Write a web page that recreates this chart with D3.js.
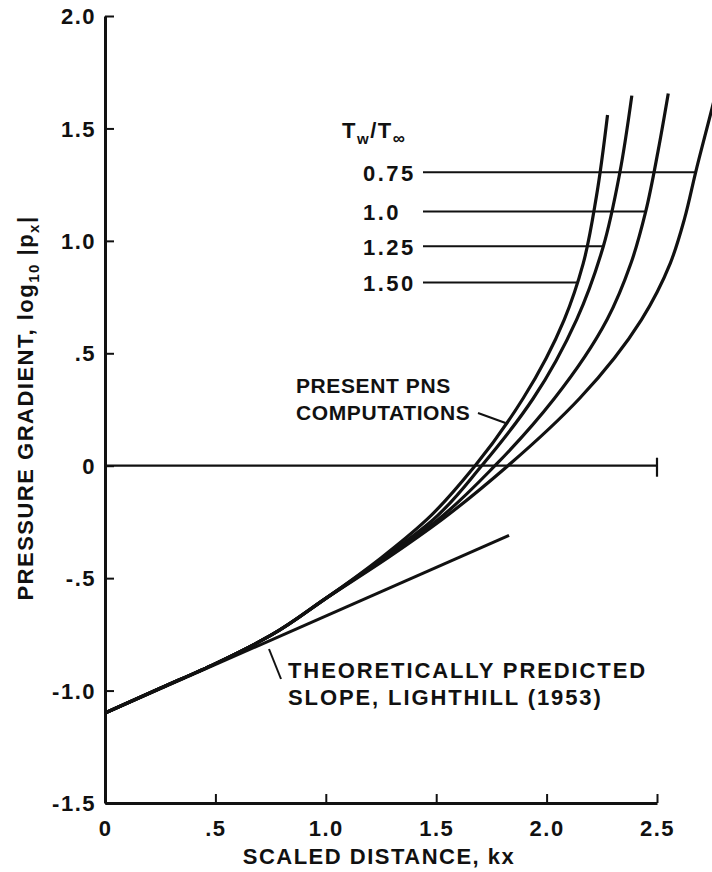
<!DOCTYPE html>
<html>
<head>
<meta charset="utf-8">
<script src="https://cdn.jsdelivr.net/npm/d3@7"></script>
<style>
  html, body { margin: 0; padding: 0; background: #fff; }
  svg text { font-family: "Liberation Sans", Arial, Helvetica, sans-serif; font-weight: bold; fill: #111; letter-spacing: 1.5px; }
  .axis path, .axis line { stroke: #111; }
</style>
</head>
<body>
<svg id="chart"></svg>
<script>
// ticks
var xTicks = [0, 0.5, 1.0, 1.5, 2.0, 2.5];
var xTickLabels = ["0", ".5", "1.0", "1.5", "2.0", "2.5"];
var yTicks = [2.0, 1.5, 1.0, 0.5, 0, -0.5, -1.0, -1.5];
var yTickLabels = ["2.0", "1.5", "1.0", ".5", "0", "-.5", "-1.0", "-1.5"];

// PNS curves, one per wall temperature ratio Tw/Tinf (kx, log10|px|)
var ratios = ["0.75", "1.0", "1.25", "1.50"];
var kx075 = [0, 0.25, 0.5, 0.75, 1.0, 1.28, 1.525, 1.825, 2.15, 2.43, 2.56, 2.625, 2.675, 2.752, 2.79];
var p075  = [-1.10, -0.99, -0.88, -0.755, -0.59, -0.41, -0.24, 0.00, 0.30, 0.65, 0.90, 1.10, 1.305, 1.60, 1.75];
var kx100 = [0, 0.25, 0.5, 0.75, 1.0, 1.27, 1.508, 1.766, 2.036, 2.274, 2.382, 2.449, 2.505, 2.551];
var p100  = [-1.10, -0.99, -0.88, -0.755, -0.59, -0.41, -0.24, 0.00, 0.30, 0.65, 0.90, 1.131, 1.40, 1.655];
var kx125 = [0, 0.25, 0.5, 0.75, 1.0, 1.26, 1.486, 1.706, 1.94, 2.136, 2.257, 2.331, 2.386];
var p125  = [-1.10, -0.99, -0.88, -0.755, -0.59, -0.41, -0.24, 0.00, 0.30, 0.65, 0.976, 1.30, 1.646];
var kx150 = [0, 0.25, 0.5, 0.75, 1.0, 1.25, 1.457, 1.676, 1.894, 2.08, 2.166, 2.226, 2.276];
var p150  = [-1.10, -0.99, -0.88, -0.755, -0.59, -0.41, -0.24, 0.00, 0.30, 0.65, 0.90, 1.20, 1.56];

// Lighthill (1953) theoretical slope
var lightKx = [0, 1.83];
var lightP = [-1.10, -0.31];

// levels of the legend leader lines (log10 |px|)
var legendLevels = [1.305, 1.131, 0.976, 0.815];

var width = 712, height = 872;

var x = d3.scaleLinear().domain([0, 2.5]).range([105, 657]);
var y = d3.scaleLinear().domain([-1.5, 2.0]).range([803, 16]);

var svg = d3.select("#chart")
            .attr("width", width)
            .attr("height", height);

svg.append("rect").attr("width", width).attr("height", height).attr("fill", "#fff");

function zip(xs, ys) {
  return xs.map(function(d, i) { return {kx: d, p: ys[i]}; });
}

var series = [zip(kx075, p075), zip(kx100, p100), zip(kx125, p125), zip(kx150, p150)];

// x position where a curve reaches a given level
function kxAt(curve, level) {
  for (var i = 1; i < curve.length; i++) {
    var a = curve[i - 1], b = curve[i];
    if (a.p <= level && b.p >= level) {
      return a.kx + (level - a.p) / (b.p - a.p) * (b.kx - a.kx);
    }
  }
  return curve[curve.length - 1].kx;
}

// axes, ticks pointing inward
var yAxis = d3.axisLeft(y)
              .tickValues(yTicks)
              .tickFormat(function(d, i) { return yTickLabels[i]; })
              .tickSize(-9)
              .tickSizeOuter(0)
              .tickPadding(9);

var xAxis = d3.axisBottom(x)
              .tickValues(xTicks)
              .tickFormat(function(d, i) { return xTickLabels[i]; })
              .tickSize(-9)
              .tickSizeOuter(0)
              .tickPadding(17);

var gy = svg.append("g")
            .attr("class", "axis")
            .attr("transform", "translate(" + x(0) + ",0)")
            .call(yAxis);

var gx = svg.append("g")
            .attr("class", "axis")
            .attr("transform", "translate(0," + y(-1.5) + ")")
            .call(xAxis);

[gx, gy].forEach(function(g) {
  g.select(".domain").attr("stroke-width", 3);
  g.selectAll(".tick line").attr("stroke-width", 2);
  g.selectAll("text").attr("font-size", 22).attr("fill", "#111").attr("font-family", null);
});
gy.selectAll("text").attr("dy", "0.35em");

// zero line with end cap
svg.append("line")
   .attr("x1", x(0)).attr("x2", x(2.5))
   .attr("y1", y(0)).attr("y2", y(0))
   .attr("stroke", "#111").attr("stroke-width", 2.2);
svg.append("line")
   .attr("x1", x(2.5)).attr("x2", x(2.5))
   .attr("y1", y(0) - 8).attr("y2", y(0) + 11)
   .attr("stroke", "#111").attr("stroke-width", 2.2);

var straight = d3.line()
                 .x(function(d) { return x(d.kx); })
                 .y(function(d) { return y(d.p); });

// curves rise almost vertically, so interpolate kx as a function of p
var smooth = d3.line()
               .x(function(d) { return x(d.kx); })
               .y(function(d) { return y(d.p); })
               .curve(d3.curveMonotoneY);

svg.append("path")
   .datum(zip(lightKx, lightP))
   .attr("d", straight)
   .attr("fill", "none")
   .attr("stroke", "#111")
   .attr("stroke-width", 3);

svg.selectAll(".curve")
   .data(series)
   .enter().append("path")
   .attr("class", "curve")
   .attr("d", smooth)
   .attr("fill", "none")
   .attr("stroke", "#111")
   .attr("stroke-width", 3.2);

// legend: Tw/Tinf
var title = svg.append("text")
               .attr("x", 342).attr("y", 138)
               .attr("font-size", 22);
title.append("tspan").text("T");
title.append("tspan").attr("font-size", 15).attr("dy", 6).text("w");
title.append("tspan").attr("dy", -6).text("/T");
title.append("tspan").attr("font-size", 17).attr("dy", 6).text("\u221E");

var leg = svg.selectAll(".leg")
             .data(ratios)
             .enter().append("g")
             .attr("class", "leg");

leg.append("text")
   .attr("x", 363)
   .attr("y", function(d, i) { return y(legendLevels[i]) + 9; })
   .attr("font-size", 22)
   .style("letter-spacing", "2.5px")
   .text(function(d) { return d; });

leg.append("line")
   .attr("x1", 423)
   .attr("x2", function(d, i) { return x(kxAt(series[i], legendLevels[i])); })
   .attr("y1", function(d, i) { return y(legendLevels[i]); })
   .attr("y2", function(d, i) { return y(legendLevels[i]); })
   .attr("stroke", "#111")
   .attr("stroke-width", 2);

// annotations
svg.append("text").attr("x", 296).attr("y", 393)
   .attr("font-size", 21).style("letter-spacing", "0.6px").text("PRESENT PNS");
svg.append("text").attr("x", 296).attr("y", 420)
   .attr("font-size", 21).style("letter-spacing", "0.6px").text("COMPUTATIONS");
svg.append("line")
   .attr("x1", 478).attr("y1", 413)
   .attr("x2", x(kxAt(series[3], 0.19))).attr("y2", y(0.19))
   .attr("stroke", "#111").attr("stroke-width", 2);

svg.append("text").attr("x", 288).attr("y", 678)
   .attr("font-size", 22).style("letter-spacing", "1.9px").text("THEORETICALLY PREDICTED");
svg.append("text").attr("x", 288).attr("y", 705)
   .attr("font-size", 22).style("letter-spacing", "1.9px").text("SLOPE, LIGHTHILL (1953)");
svg.append("line")
   .attr("x1", 269).attr("y1", 649)
   .attr("x2", 281).attr("y2", 679)
   .attr("stroke", "#111").attr("stroke-width", 2);

// axis titles
svg.append("text")
   .attr("x", (x(0) + x(2.5)) / 2 - 2)
   .attr("y", 864)
   .attr("text-anchor", "middle")
   .attr("font-size", 22)
   .text("SCALED DISTANCE, kx");

var yt = svg.append("text")
            .attr("transform", "translate(33,408) rotate(-90)")
            .attr("text-anchor", "middle")
            .attr("font-size", 22);
yt.append("tspan").text("PRESSURE GRADIENT, log");
yt.append("tspan").attr("font-size", 15).attr("dy", 6).text("10");
yt.append("tspan").attr("dy", -6).text(" |p");
yt.append("tspan").attr("font-size", 15).attr("dy", 6).text("x");
yt.append("tspan").attr("dy", -6).text("|");
</script>
</body>
</html>
